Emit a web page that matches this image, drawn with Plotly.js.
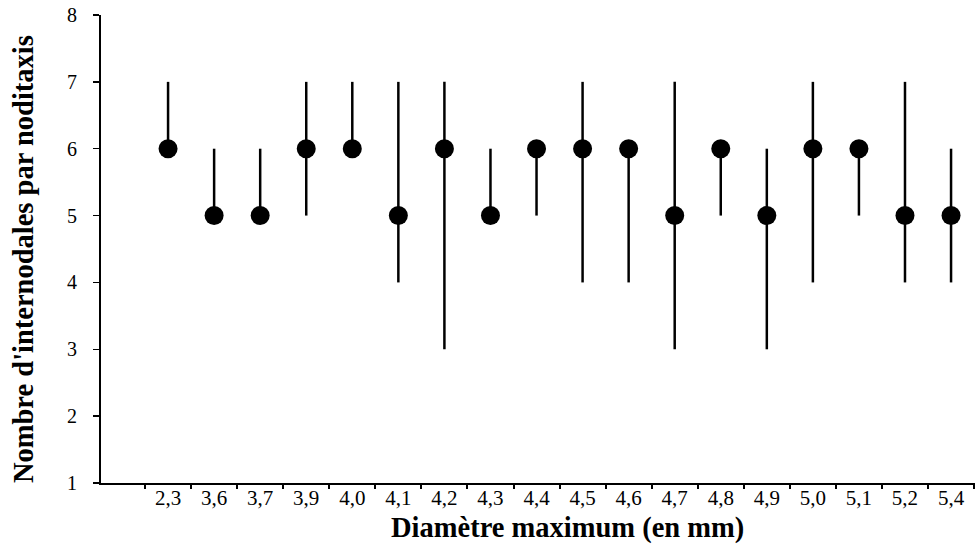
<!DOCTYPE html>
<html><head><meta charset="utf-8">
<script src="https://cdn.plot.ly/plotly-3.0.1.min.js"></script>
<style>body{margin:0;background:#fff}#c{width:979px;height:549px}</style>
</head><body><div id="c"></div>
<script>
const categories = ["2,3","3,6","3,7","3,9","4,0","4,1","4,2","4,3","4,4","4,5","4,6","4,7","4,8","4,9","5,0","5,1","5,2","5,4"];
const medianVals = [6,5,5,6,6,5,6,5,6,6,6,5,6,5,6,6,5,5];
const minVals    = [6,5,5,5,6,4,3,5,5,4,4,3,5,3,4,5,4,4];
const maxVals    = [7,6,6,7,7,7,7,6,6,7,6,7,6,6,7,6,7,6];
const xTitle = 'Diamètre maximum (en mm)';
const yTitle = "Nombre d'internodales par noditaxis";

const idx = categories.map((c,i)=>i+1);
const trace = {
  x: idx, y: medianVals, type:'scatter', mode:'markers',
  marker:{color:'#000', size:19},
  error_y:{type:'data', symmetric:false,
    array: maxVals.map((v,i)=>v-medianVals[i]),
    arrayminus: medianVals.map((v,i)=>v-minVals[i]),
    color:'#000', thickness:2.5, width:0},
  showlegend:false, hoverinfo:'skip'
};
const dummy = {x:[0.5], y:[1], xaxis:'x2', yaxis:'y', mode:'markers', marker:{opacity:0}, showlegend:false, hoverinfo:'skip'};
const font = {family:'"Liberation Serif", "Times New Roman", serif', color:'#000'};
const layout = {
  width:979, height:549,
  margin:{l:101, r:4, t:15, b:66},
  paper_bgcolor:'#fff', plot_bgcolor:'#fff',
  font: Object.assign({size:20}, font),
  xaxis:{range:[-0.456,18.52], tickvals:idx, ticktext:categories, ticks:'', showgrid:false, zeroline:false,
    showline:true, linecolor:'#000', linewidth:2, tickfont:{size:21}, fixedrange:true, ticklabelstandoff:-5},
  xaxis2:{overlaying:'x', matches:'x', side:'bottom', range:[-0.456,18.52], tickvals:categories.map((c,i)=>i+0.5).concat([18.5]),
    showticklabels:false, ticks:'outside', ticklen:5, tickwidth:2, tickcolor:'#000', showgrid:false, zeroline:false, showline:false},
  yaxis:{range:[1,8], dtick:1, tick0:1, ticks:'outside', ticklen:6, tickwidth:1.5, tickcolor:'#000', showgrid:false, zeroline:false,
    showline:true, linecolor:'#000', linewidth:2, tickfont:{size:20}, ticklabelstandoff:12},
  annotations:[
    {text:'<b>'+xTitle+'</b>', xref:'paper', yref:'paper', x:0.534, y:-0.096, xanchor:'center', yanchor:'middle',
     showarrow:false, font:{size:28.5}},
    {text:'<b>'+yTitle+'</b>', xref:'paper', yref:'paper', x:-0.0892, y:0.4786, xanchor:'center', yanchor:'middle',
     textangle:-90, showarrow:false, font:{size:28.5}}
  ]
};
Plotly.newPlot('c',[trace,dummy],layout,{displayModeBar:false, staticPlot:true});
</script></body></html>
